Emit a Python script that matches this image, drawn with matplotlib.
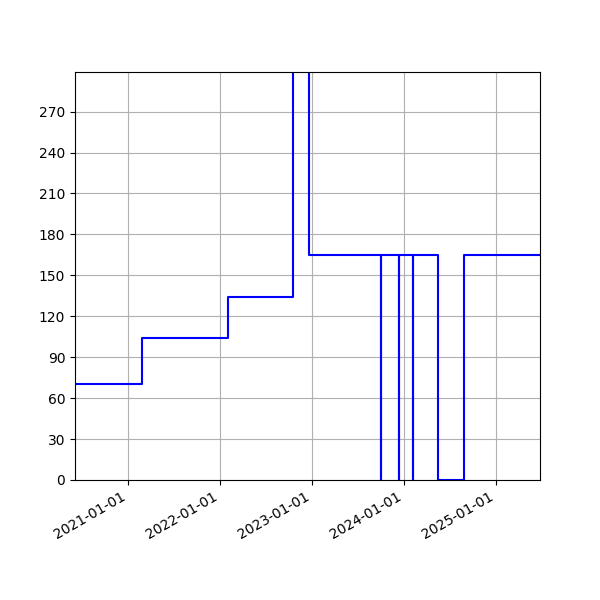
import matplotlib
matplotlib.use("Agg")
import matplotlib.pyplot as plt
import matplotlib.dates as mdates
import numpy as np
import pandas as pd

change_dates = ["2020-06-04", "2021-02-27", "2022-02-01", "2022-10-19", "2022-12-21",
                "2023-10-03", "2023-10-04", "2023-12-11", "2023-12-12",
                "2024-02-06", "2024-02-07", "2024-05-14", "2024-08-26", "2025-06-25"]
values = [70, 104, 134, 350, 165, 0, 165, 0, 165, 0, 165, 0, 165, 165]
y_ticks = [0, 30, 60, 90, 120, 150, 180, 210, 240, 270]

dates = pd.to_datetime(change_dates)

fig, ax = plt.subplots(figsize=(6, 6), dpi=100)
ax.step(dates, values, where="post", color="blue", linewidth=1.5)
ax.set_xlim(dates[0], dates[-1])
ax.set_ylim(0, 299)
ax.set_yticks(y_ticks)
ax.xaxis.set_major_locator(mdates.YearLocator())
ax.xaxis.set_major_formatter(mdates.DateFormatter("%Y-%m-%d"))
ax.grid(True)
fig.autofmt_xdate()
fig.savefig("out.png", dpi=100)
